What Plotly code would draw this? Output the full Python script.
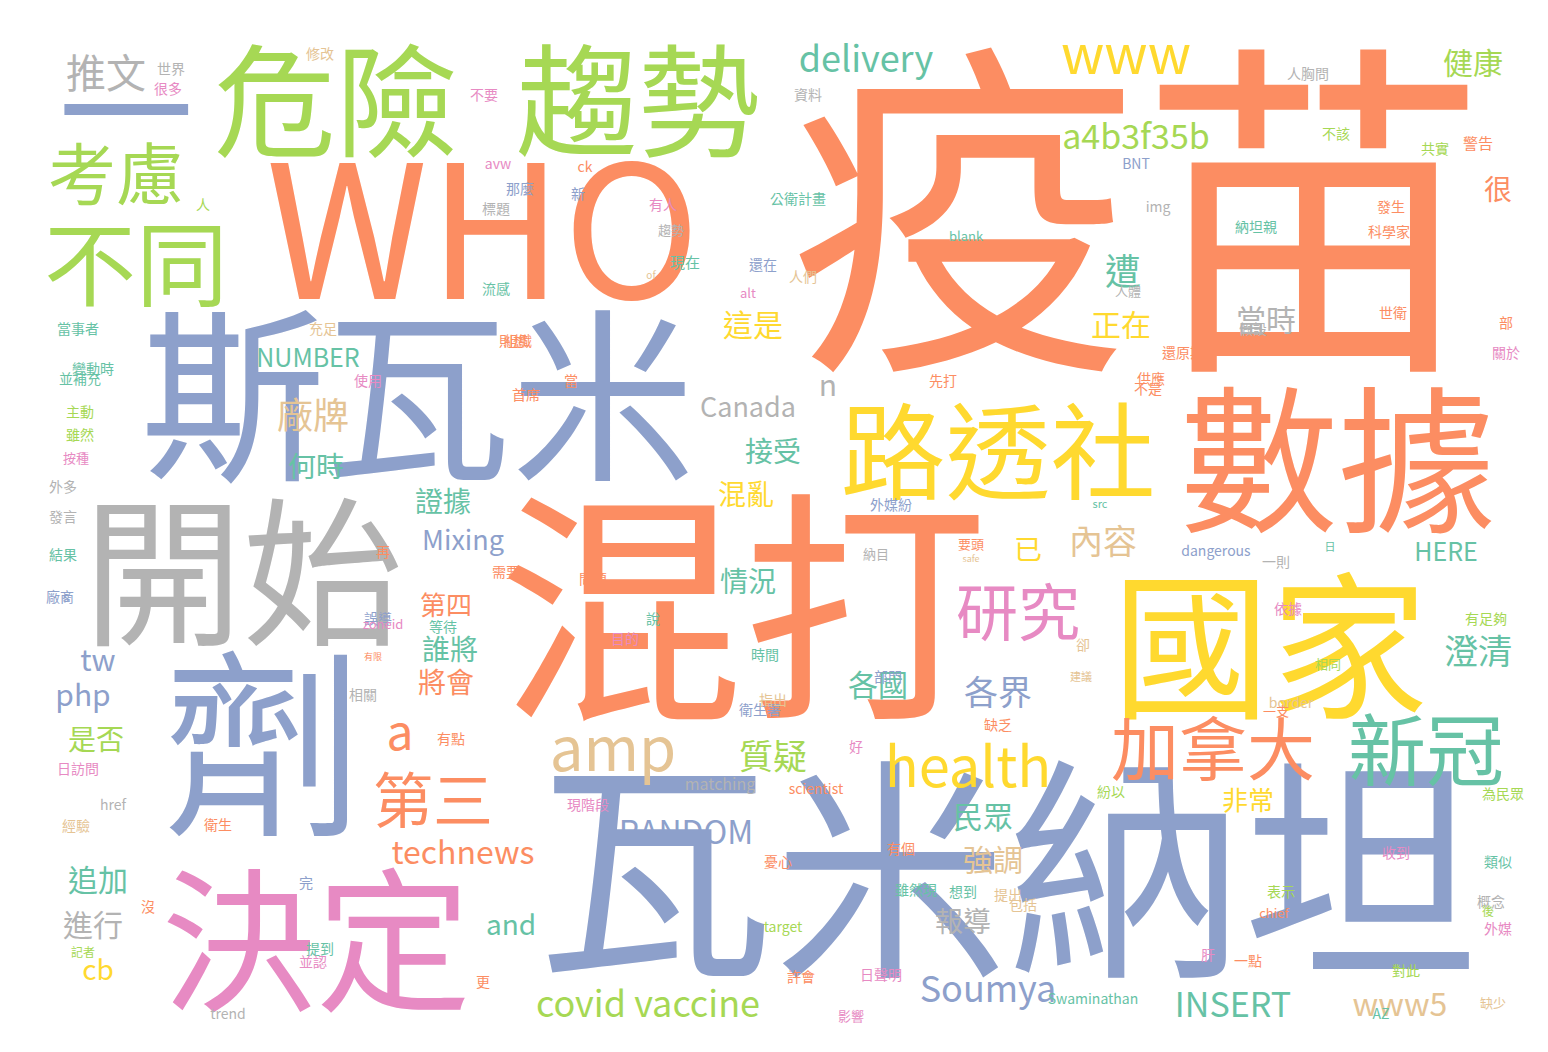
import plotly.graph_objects as go

C = {"g": "#66c2a5", "o": "#fc8d62", "b": "#8da0cb", "p": "#e78ac3",
     "l": "#a6d854", "y": "#ffd92f", "t": "#e5c494", "k": "#b3b3b3"}

words = ["疫苗","WHO","混打","瓦米納坦","斯瓦米","開始","劑","數據","國家","決定","危險","趨勢","路透社","一",
         "考慮","不同","推文","delivery","www","a4b3f35b","健康","加拿大","新冠","health","amp","a","第三","研究",
         "technews","RANDOM","covid vaccine","Soumya","INSERT","www5","and","cb","進行","追加","php","tw","是否",
         "NUMBER","廠牌","何時","證據","Mixing","第四","誰將","將會","Canada","n","這是","接受","混亂","情況","質疑",
         "遭","正在","已","內容","各界","各國","民眾","強調","報導","非常","當時","很","HERE","澄清",
         "世界","很多","修改","不要","資料","人胸問","不該","警告","共實","avw","ck","BNT","新","那麼","標題","人",
         "有人","趨勢","現在","公衛計畫","img","發生","納坦親","科學家斯","blank","還在","人們","alt","人體","of",
         "當事者","充足","組織","流感","則想","世衛","假設","還原斯","變動時","使用","首席","當","先打","供應","不是",
         "部","關於","並補充","主動","雖然","按種","外多","發言","再","結果","廠商","等待","問題","目的","說","相同",
         "外媒紛","safe","要頭","dangerous","一則","日","src","納目","需要","誤導","zoneid","時間","部門","卻","建議",
         "border","依據","有足夠","相關","有點","好","衛生署","指出","缺乏","一支","s","日訪問","href","現階段",
         "matching","scientist","紛以","為民眾","經驗","衛生","有個","收到","憂心","雖然現","想到","表示","概念",
         "類似","完","提出","後","target","chief","包括","外媒","沒","提到","一點","肝","並認","更","許會","日聲明",
         "對此","記者","Swaminathan","缺少","trend","影響","AZ","有限","SwaminathanMixing","會"]
xs = [1130,475,735,1000,410,235,255,1330,1262,308,328,630,990,118,
      108,128,98,858,1118,1128,1465,1205,1418,960,605,392,425,1010,
      455,678,640,980,1225,1392,503,90,85,90,75,90,88,
      300,305,308,435,455,438,442,438,740,820,745,765,738,740,765,
      1115,1113,1020,1095,990,870,975,985,955,1240,1258,1490,1438,1470,
      163,160,312,476,800,1300,1328,1470,1427,490,577,1128,570,512,488,195,
      655,663,677,790,1150,1383,1248,1388,958,755,795,740,1120,643,
      70,315,510,488,505,1385,1245,1175,85,360,518,563,935,1143,1140,
      1498,1498,72,72,72,68,55,55,375,55,52,435,585,617,645,1320,
      883,963,963,1208,1268,1322,1092,868,498,370,375,757,880,
      1075,1073,1283,1280,1478,355,443,848,752,765,990,1268,58,70,105,
      580,712,808,1103,1495,68,210,893,1388,770,908,955,
      1273,1483,1490,298,1000,1480,775,1266,1015,1490,140,312,1240,1200,305,475,
      793,873,1398,75,1085,1485,220,843,1373,365]
ys = [248,245,632,892,412,585,762,472,658,952,108,108,457,120,
      175,268,70,55,52,132,58,750,752,765,748,730,800,612,
      848,828,1000,985,1000,1000,920,965,920,875,690,655,735,
      353,412,462,497,535,600,645,678,402,380,320,447,490,577,752,
      268,320,545,537,688,680,812,855,917,795,315,185,547,647,
      62,82,47,88,88,67,127,137,142,157,160,157,187,182,202,198,
      198,224,256,192,200,200,220,225,230,258,270,287,285,268,
      322,322,334,282,334,306,322,346,362,374,388,374,374,372,382,
      316,346,372,405,428,452,480,510,545,548,590,620,572,632,612,658,
      498,552,538,544,555,540,497,548,565,612,618,648,670,638,
      670,696,602,612,688,732,740,703,693,718,705,590,762,798,798,
      778,782,785,787,819,818,842,846,855,883,885,885,
      895,855,876,888,905,920,907,898,922,900,942,954,948,955,975,970,
      968,964,946,992,997,1007,1010,1007,650,425]
sizes = [350,185,245,235,185,160,200,158,158,155,122,122,105,135,
         68,92,40,36,54,34,30,68,78,56,60,48,60,62,
         32,32,36,36,34,32,28,28,30,30,30,30,28,
         25,36,28,28,27,26,28,28,27,30,30,28,28,28,34,
         36,30,28,34,34,30,30,30,28,26,30,28,25,34,
         14,14,14,14,14,14,14,15,14,14,14,14,14,14,14,14,
         14,13,15,14,14,14,14,14,13,14,14,13,13,10,
         14,14,14,14,14,14,14,14,14,14,14,14,14,14,14,
         14,14,14,14,14,13,14,14,14,14,14,14,14,14,14,13,
         14,9,13,14,14,11,11,13,14,14,13,14,14,14,
         11,14,14,14,14,14,14,14,14,14,13,14,14,14,14,
         16,14,14,14,14,14,14,14,14,14,14,14,
         14,14,14,14,12,14,13,14,14,14,14,14,14,14,14,14,
         14,14,12,14,13,14,13,14,9,14]
cols = ["o","o","o","b","b","k","b","o","y","p","l","l","y","b",
        "l","l","k","g","y","l","l","o","g","y","t","o","o","p",
        "o","b","l","b","g","t","g","y","k","g","b","b","l",
        "g","t","g","g","b","o","g","o","k","k","y","g","y","g","l",
        "g","y","y","t","b","g","g","t","k","y","k","o","g","g",
        "k","p","t","p","k","k","l","o","l","p","o","b","b","b","k","l",
        "p","k","g","g","k","o","g","o","g","b","t","p","k","t",
        "g","t","o","g","o","o","k","o","g","p","o","o","o","o","o",
        "o","p","g","l","l","p","k","k","o","g","b","g","o","p","g","l",
        "b","t","o","b","k","g","g","k","o","b","p","g","b","t",
        "t","t","p","l","k","o","p","b","t","o","o","b","p","k",
        "p","k","o","l","l","t","o","o","p","o","g","g",
        "l","k","g","b","t","l","l","o","t","p","o","g","o","p","p","o",
        "o","p","l","l","g","t","k","p","g","o"]

fig = go.Figure(go.Scatter(
    x=xs, y=ys, text=words, mode="text", textposition="middle center",
    textfont=dict(size=sizes, color=[C[c] for c in cols],
                  family="Noto Sans CJK TC, Noto Sans, sans-serif"),
    hoverinfo="text"))
fig.update_layout(width=1548, height=1052, margin=dict(l=0, r=0, t=0, b=0),
                  paper_bgcolor="white", plot_bgcolor="white", showlegend=False,
                  xaxis=dict(range=[0, 1548], visible=False, fixedrange=True),
                  yaxis=dict(range=[1052, 0], visible=False, fixedrange=True))
fig.write_html("out.html")
